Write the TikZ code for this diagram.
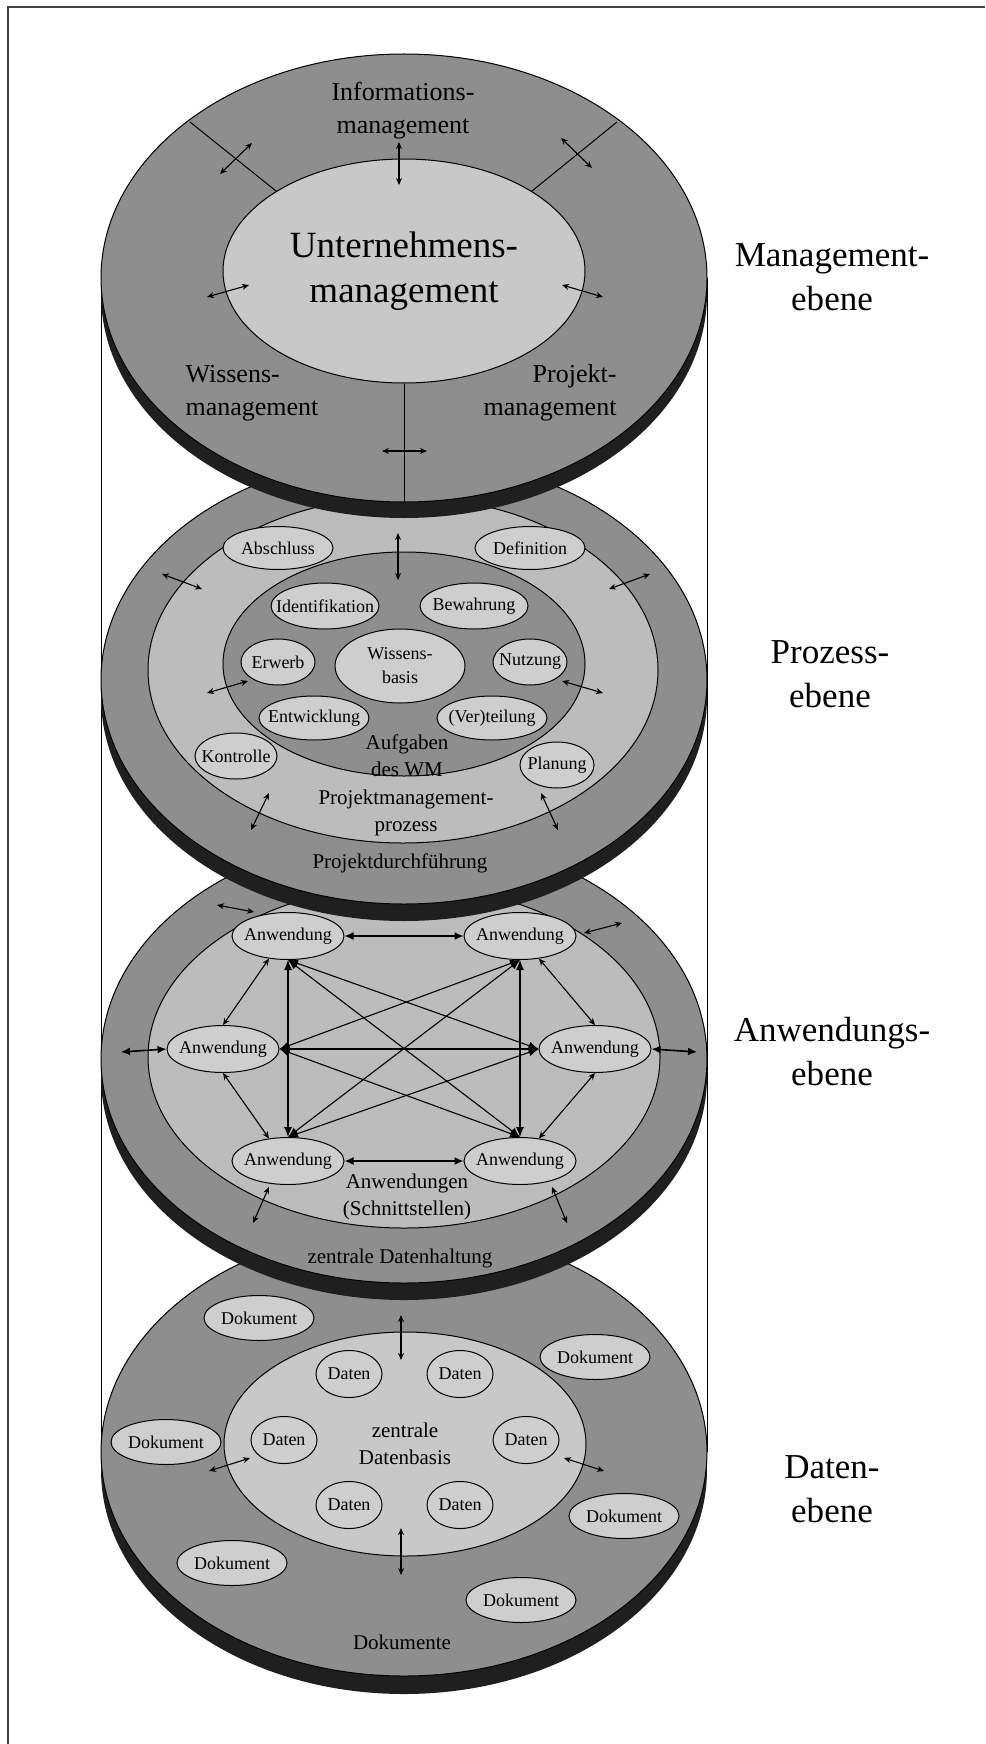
\documentclass[tikz,border=0pt]{standalone}
\usepackage{fontspec}
\setmainfont{Liberation Serif}
\usetikzlibrary{arrows.meta,shapes.geometric}

\definecolor{ringgray}{RGB}{142,142,142}
\definecolor{midgray}{RGB}{188,188,188}
\definecolor{lightgray}{RGB}{200,200,200}
\definecolor{nodegray}{RGB}{206,206,206}

\begin{document}
\begin{tikzpicture}[x=1pt,y=-1pt,>={Stealth[length=7pt,width=6pt]},
  rim/.style={fill=black!88},
  face/.style={fill=ringgray,draw=black,line width=1pt},
  midface/.style={fill=midgray,draw=black,line width=1pt},
  lightface/.style={fill=lightgray,draw=black,line width=1pt},
  task/.style={ellipse,draw=black,line width=1pt,fill=nodegray,inner xsep=-12pt,inner ysep=0pt,font=\fontsize{18}{20}\selectfont},
  ringtext/.style={align=center,font=\fontsize{21}{27}\selectfont},
  bigtext/.style={align=center,font=\fontsize{26}{33}\selectfont},
  levellabel/.style={align=center,font=\fontsize{35}{44}\selectfont},
  link/.style={<->,line width=1.1pt},
  boldlink/.style={{Latex[length=9pt,width=8pt]}-{Latex[length=9pt,width=8pt]},line width=1.6pt},
  mesh/.style={{Latex[length=10pt,width=8pt]}-{Latex[length=10pt,width=8pt]},line width=1.1pt}]
  \useasboundingbox (0,0) rectangle (985,1744);
  \draw[line width=1.6pt,black!75] (8,1744) -- (8,7) -- (985,7);
  \draw[line width=1pt] (101,278) -- (101,1452);
  \draw[line width=1pt] (707,278) -- (707,1452);

  \fill[rim] (404,1470) ellipse [x radius=303,y radius=224];
  \draw[face] (404,1452) ellipse [x radius=303,y radius=224];
  \node[ellipse,lightface,minimum width=362,minimum height=224,inner sep=0pt,ringtext] (basis) at (405,1444) {zentrale\\Datenbasis};
  \node[task,minimum width=110,minimum height=45] (d1) at (259,1318) {Dokument};
  \node[task,minimum width=110,minimum height=45] (d2) at (595,1357) {Dokument};
  \node[task,minimum width=110,minimum height=45] (d3) at (166,1442) {Dokument};
  \node[task,minimum width=110,minimum height=45] (d4) at (624,1516) {Dokument};
  \node[task,minimum width=110,minimum height=45] (d5) at (232,1563) {Dokument};
  \node[task,minimum width=110,minimum height=45] (d6) at (521,1600) {Dokument};
  \node[task,minimum width=66,minimum height=47] (t1) at (349,1374) {Daten};
  \node[task,minimum width=66,minimum height=47] (t2) at (460,1374) {Daten};
  \node[task,minimum width=66,minimum height=47] (t3) at (284,1440) {Daten};
  \node[task,minimum width=66,minimum height=47] (t4) at (526,1440) {Daten};
  \node[task,minimum width=66,minimum height=47] (t5) at (349,1505) {Daten};
  \node[task,minimum width=66,minimum height=47] (t6) at (460,1505) {Daten};
  \node[ringtext] (dokumente) at (402,1642) {Dokumente};
  \draw[link] (401,1315) -- (401,1360);
  \draw[link] (401,1528) -- (401,1575);
  \draw[link] (209,1471) -- (250,1458);
  \draw[link] (564,1458) -- (604,1471);

  \fill[rim] (404,1076) ellipse [x radius=303,y radius=224];
  \draw[face] (404,1059) ellipse [x radius=303,y radius=224];
  \draw[midface] (404,1057) ellipse [x radius=256,y radius=171];
  \node[task,minimum width=112,minimum height=47] (a1) at (288,936) {Anwendung};
  \node[task,minimum width=112,minimum height=47] (a2) at (520,936) {Anwendung};
  \node[task,minimum width=112,minimum height=47] (a3) at (223,1049) {Anwendung};
  \node[task,minimum width=112,minimum height=47] (a4) at (595,1049) {Anwendung};
  \node[task,minimum width=112,minimum height=47] (a5) at (288,1161) {Anwendung};
  \node[task,minimum width=112,minimum height=47] (a6) at (520,1161) {Anwendung};
  \draw[boldlink] (a1.east) -- (a2.west);
  \draw[boldlink] (a5.east) -- (a6.west);
  \draw[mesh] (a1.south) -- (a5.north);
  \draw[mesh] (a2.south) -- (a6.north);
  \draw[mesh] (a3.east) -- (a4.west);
  \draw[mesh] (a1.south) -- (a4.west);
  \draw[mesh] (a1.south) -- (a6.north);
  \draw[mesh] (a2.south) -- (a3.east);
  \draw[mesh] (a2.south) -- (a5.north);
  \draw[mesh] (a3.east) -- (a6.north);
  \draw[mesh] (a4.west) -- (a5.north);
  \draw[link] (a1.-130) -- (a3.north);
  \draw[link] (a2.-50) -- (a4.north);
  \draw[link] (a3.south) -- (a5.130);
  \draw[link] (a4.south) -- (a6.50);
  \draw[boldlink] (121,1052) -- (a3.west);
  \draw[boldlink] (a4.east) -- (697,1052);
  \draw[link] (217,905) -- (254,912);
  \draw[link] (584,933) -- (622,923);
  \draw[link] (269,1187) -- (253,1223);
  \draw[link] (552,1187) -- (567,1223);
  \node[ringtext] (schnitt) at (407,1197) {Anwendungen\\(Schnittstellen)};
  \node[ringtext] (haltung) at (400,1258) {zentrale Datenhaltung};

  \fill[rim] (404,697) ellipse [x radius=303,y radius=224];
  \draw[face] (404,680) ellipse [x radius=303,y radius=224];
  \draw[midface] (403,670) ellipse [x radius=255,y radius=173];
  \draw[face] (404,664) ellipse [x radius=181,y radius=112];
  \node[task,minimum width=110,minimum height=43] (abschluss) at (278,548) {Abschluss};
  \node[task,minimum width=110,minimum height=43] (definition) at (530,548) {Definition};
  \node[task,minimum width=82,minimum height=46] (kontrolle) at (236,756) {Kontrolle};
  \node[task,minimum width=74,minimum height=46] (planung) at (557,765) {Planung};
  \node[task,minimum width=108,minimum height=46] (ident) at (325,606) {Identifikation};
  \node[task,minimum width=108,minimum height=46] (bewahrung) at (474,606) {Bewahrung};
  \node[task,minimum width=74,minimum height=46] (erwerb) at (278,662) {Erwerb};
  \node[task,minimum width=74,minimum height=46] (nutzung) at (530,662) {Nutzung};
  \node[task,minimum width=130,minimum height=74,inner xsep=0pt,align=center,font=\fontsize{18}{24}\selectfont] (wbasis) at (400,666) {Wissens-\\basis};
  \node[task,minimum width=110,minimum height=44] (entw) at (314,718) {Entwicklung};
  \node[task,minimum width=110,minimum height=44] (verteil) at (492,718) {(Ver)teilung};
  \node[ringtext] (aufgaben) at (407,756) {Aufgaben\\des WM};
  \node[ringtext] (pmprozess) at (406,813) {Projektmanagement-\\prozess};
  \node[ringtext] (durchf) at (400,863) {Projektdurchführung};
  \draw[link] (398,533) -- (398,580);
  \draw[link] (162,574) -- (202,589);
  \draw[link] (609,589) -- (650,574);
  \draw[link] (207,693) -- (248,681);
  \draw[link] (562,681) -- (603,693);
  \draw[link] (269,793) -- (251,830);
  \draw[link] (541,793) -- (558,830);

  \fill[rim] (404,294) ellipse [x radius=303,y radius=224];
  \draw[face] (404,278) ellipse [x radius=303,y radius=224];
  \node[ellipse,lightface,minimum width=362,minimum height=224,inner sep=0pt,align=center,font=\fontsize{37}{45}\selectfont] (um) at (404,271) {Unternehmens-\\management};
  \draw[line width=1pt] (um.148) -- (190,122);
  \draw[line width=1pt] (um.32) -- (617,122);
  \draw[line width=1pt] (um.south) -- (404,502);
  \node[bigtext] (infm) at (403,111) {Informations-\\management};
  \node[bigtext,align=left,anchor=west] (wm) at (182,393) {Wissens-\\management};
  \node[bigtext,align=right,anchor=east] (pm) at (620,393) {Projekt-\\management};
  \draw[link] (220,174) -- (252,143);
  \draw[link] (399,142) -- (399,185);
  \draw[link] (207,297) -- (249,285);
  \draw[link] (382,451) -- (427,451);
  \draw[link] (561,138) -- (592,168);
  \draw[link] (562,285) -- (603,297);

  \node[levellabel] (mebene) at (832,277) {Management-\\ebene};
  \node[levellabel] (pebene) at (830,674) {Prozess-\\ebene};
  \node[levellabel] (aebene) at (832,1052) {Anwendungs-\\ebene};
  \node[levellabel] (debene) at (832,1489) {Daten-\\ebene};
\end{tikzpicture}
\end{document}
